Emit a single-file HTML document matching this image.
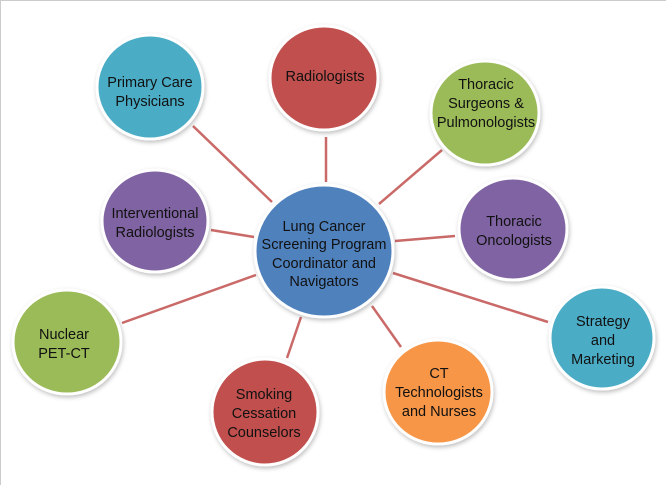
<!DOCTYPE html>
<html><head><meta charset="utf-8"><style>
html,body{margin:0;padding:0;background:#fff}
svg{display:block}
text{font-family:"Liberation Sans",sans-serif;font-size:14.5px;fill:#111;text-anchor:middle}
</style></head><body>
<svg width="666" height="485" viewBox="0 0 666 485" xmlns="http://www.w3.org/2000/svg">
<defs>
<filter id="sh" x="-20%" y="-20%" width="140%" height="140%"><feDropShadow dx="1" dy="2" stdDeviation="2" flood-color="#000" flood-opacity="0.25"/></filter>
</defs>
<rect x="0.5" y="0.5" width="680" height="500" fill="none" stroke="#ccc"/>
<g stroke="#c0504d" stroke-width="2.5" stroke-opacity="0.85">
<line x1="193" y1="126" x2="272" y2="202"/>
<line x1="326" y1="137" x2="326" y2="182"/>
<line x1="442" y1="150" x2="379" y2="204"/>
<line x1="211" y1="230" x2="254" y2="237"/>
<line x1="395" y1="241" x2="455" y2="236"/>
<line x1="122" y1="323" x2="256" y2="275"/>
<line x1="393" y1="273" x2="548" y2="322"/>
<line x1="287" y1="358" x2="301" y2="317"/>
<line x1="372" y1="306" x2="401" y2="347"/>
</g>
<g stroke="#fff" stroke-width="3" filter="url(#sh)">
<ellipse cx="150" cy="87" rx="53" ry="52" fill="#4bacc6"/>
<ellipse cx="324" cy="78" rx="54" ry="52" fill="#c0504d"/>
<ellipse cx="485" cy="113" rx="54" ry="52" fill="#9bbb59"/>
<ellipse cx="155" cy="221" rx="53" ry="51" fill="#8064a2"/>
<ellipse cx="513" cy="229" rx="54" ry="51" fill="#8064a2"/>
<ellipse cx="67" cy="342" rx="54" ry="52" fill="#9bbb59"/>
<ellipse cx="602" cy="338" rx="52" ry="51" fill="#4bacc6"/>
<ellipse cx="265" cy="412" rx="53" ry="53" fill="#c0504d"/>
<ellipse cx="438" cy="392" rx="54" ry="52" fill="#f79646"/>
<ellipse cx="324" cy="251" rx="69" ry="66" fill="#4f81bd"/>
</g>
<text x="150" y="87">Primary Care</text><text x="150" y="106">Physicians</text>
<text x="325" y="81">Radiologists</text>
<text x="486" y="89">Thoracic</text><text x="486" y="108">Surgeons &amp;</text><text x="486" y="127">Pulmonologists</text>
<text x="155" y="218">Interventional</text><text x="155" y="237">Radiologists</text>
<text x="514" y="226">Thoracic</text><text x="514" y="245">Oncologists</text>
<text x="324" y="231">Lung Cancer</text><text x="324" y="249">Screening Program</text><text x="324" y="268">Coordinator and</text><text x="324" y="286">Navigators</text>
<text x="64" y="339">Nuclear</text><text x="64" y="358">PET-CT</text>
<text x="603" y="326">Strategy</text><text x="603" y="345">and</text><text x="603" y="364">Marketing</text>
<text x="264" y="399">Smoking</text><text x="264" y="418">Cessation</text><text x="264" y="437">Counselors</text>
<text x="439" y="378">CT</text><text x="439" y="397">Technologists</text><text x="439" y="416">and Nurses</text>
</svg>
</body></html>
